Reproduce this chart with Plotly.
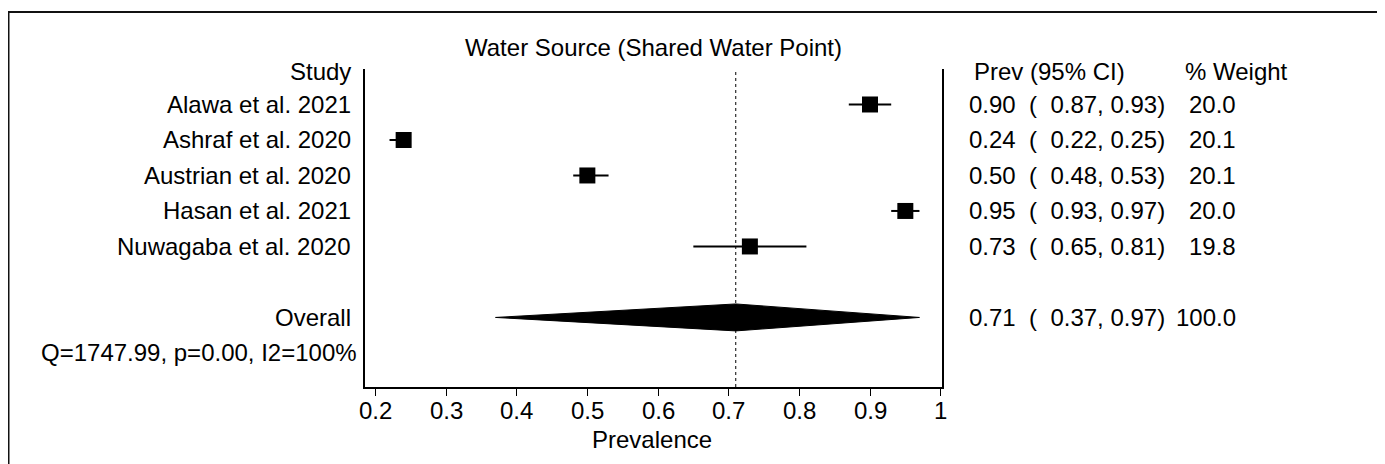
import plotly.graph_objects as go

# ---------------- data ----------------
studies = ["Alawa et al. 2021", "Ashraf et al. 2020", "Austrian et al. 2020",
           "Hasan et al. 2021", "Nuwagaba et al. 2020"]
prev = [0.90, 0.24, 0.50, 0.95, 0.73]
lci = [0.87, 0.22, 0.48, 0.93, 0.65]
uci = [0.93, 0.25, 0.53, 0.97, 0.81]
weight = [20.0, 20.1, 20.1, 20.0, 19.8]

overall_label = "Overall"
overall_prev = 0.71
overall_lci = 0.37
overall_uci = 0.97
overall_weight = 100.0
het_text = "Q=1747.99, p=0.00, I2=100%"

title_text = "Water Source (Shared Water Point)"
x_title = "Prevalence"
tick_vals = [0.2, 0.3, 0.4, 0.5, 0.6, 0.7, 0.8, 0.9, 1.0]
tick_text = ["0.2", "0.3", "0.4", "0.5", "0.6", "0.7", "0.8", "0.9", "1"]
col_study = "Study"
col_prev = "Prev (95% CI)"
col_weight = "% Weight"

# ---------------- layout geometry (page pixels) ----------------
PAGE_W, PAGE_H = 1385, 464
OFF = 8                      # default body margin of the html page
W, H = PAGE_W - OFF, PAGE_H - OFF
PL, PR, PT, PB = 365, 942, 69, 387
FONT = "Liberation Sans, Arial, sans-serif"
FS = 24


def pxx(p):
    return (p - PL) / (PR - PL)


def pxy(p):
    return (PB - p) / (PB - PT)


study_rows = list(range(1, len(studies) + 1))
overall_row = len(studies) + 2
het_row = overall_row + 1
header_row = 0
y_range = [8.96, 0.0]

fig = go.Figure()

# reference (dotted) line at the overall estimate
fig.add_shape(type="line", xref="x", yref="paper",
              x0=overall_prev, x1=overall_prev, y0=0, y1=1,
              line=dict(color="black", width=1, dash="dot"), layer="below")

# study estimates with CIs
fig.add_trace(go.Scatter(
    x=prev, y=study_rows, mode="markers",
    marker=dict(symbol="square", size=16, color="black", line=dict(width=0)),
    error_x=dict(type="data", symmetric=False,
                 array=[u - e for u, e in zip(uci, prev)],
                 arrayminus=[e - l for e, l in zip(prev, lci)],
                 color="black", thickness=2, width=0),
    hoverinfo="skip", showlegend=False))

# overall diamond
half_h = 0.38
fig.add_trace(go.Scatter(
    x=[overall_lci, overall_prev, overall_uci, overall_prev, overall_lci],
    y=[overall_row, overall_row - half_h, overall_row, overall_row + half_h, overall_row],
    mode="lines", fill="toself", fillcolor="black",
    line=dict(color="black", width=1), hoverinfo="skip", showlegend=False))

ann = []


def text(x, y, s, anchor, xref="paper", yref="y"):
    ann.append(dict(x=pxx(x) if xref == "paper" else x, xref=xref, y=y, yref=yref,
                    text=s, showarrow=False, xanchor=anchor, yanchor="middle",
                    font=dict(family=FONT, size=FS, color="black")))


# headers
text(353, header_row + 0.06, col_study, "right")
text(972, header_row + 0.06, col_prev, "left")
text(1183, header_row + 0.06, col_weight, "left")

# rows
for r, s, e, l, u, w in zip(study_rows, studies, prev, lci, uci, weight):
    text(353, r, s, "right")
    text(967, r, f"{e:.2f}  (  {l:.2f}, {u:.2f})", "left")
    text(1238, r, f"{w:.1f}", "right")

text(353, overall_row, overall_label, "right")
text(967, overall_row, f"{overall_prev:.2f}  (  {overall_lci:.2f}, {overall_uci:.2f})", "left")
text(1238, overall_row, f"{overall_weight:.1f}", "right")
text(359, het_row, het_text, "right")

# x tick labels
for v, t in zip(tick_vals, tick_text):
    text(v, pxy(410), t, "center", xref="x", yref="paper")

# title and x title
text(653, pxy(47), title_text, "center", yref="paper")
text(652, pxy(439), x_title, "center", yref="paper")

fig.update_layout(annotations=ann)

# outer frame
fig.add_shape(type="rect", xref="paper", yref="paper",
              x0=pxx(8.5), x1=pxx(1379.5), y0=pxy(480), y1=pxy(12),
              line=dict(color="#111111", width=2), fillcolor="rgba(0,0,0,0)")

fig.update_xaxes(range=[0.1853, 1.0019], showline=True, linecolor="black", linewidth=2,
                 ticks="outside", ticklen=7, tickwidth=1, tickcolor="black",
                 tickvals=tick_vals, showticklabels=False,
                 showgrid=False, zeroline=False, fixedrange=True)
fig.update_yaxes(range=y_range, showline=True, mirror=True, linecolor="black", linewidth=2,
                 showticklabels=False, ticks="", showgrid=False, zeroline=False,
                 fixedrange=True)

fig.update_layout(width=W, height=H,
                  margin=dict(l=PL - OFF, r=PAGE_W - PR, t=PT - OFF, b=PAGE_H - PB, pad=0),
                  plot_bgcolor="white", paper_bgcolor="white",
                  showlegend=False, font=dict(family=FONT, size=FS, color="black"))

fig.write_html("out.html", config={"displayModeBar": False})
